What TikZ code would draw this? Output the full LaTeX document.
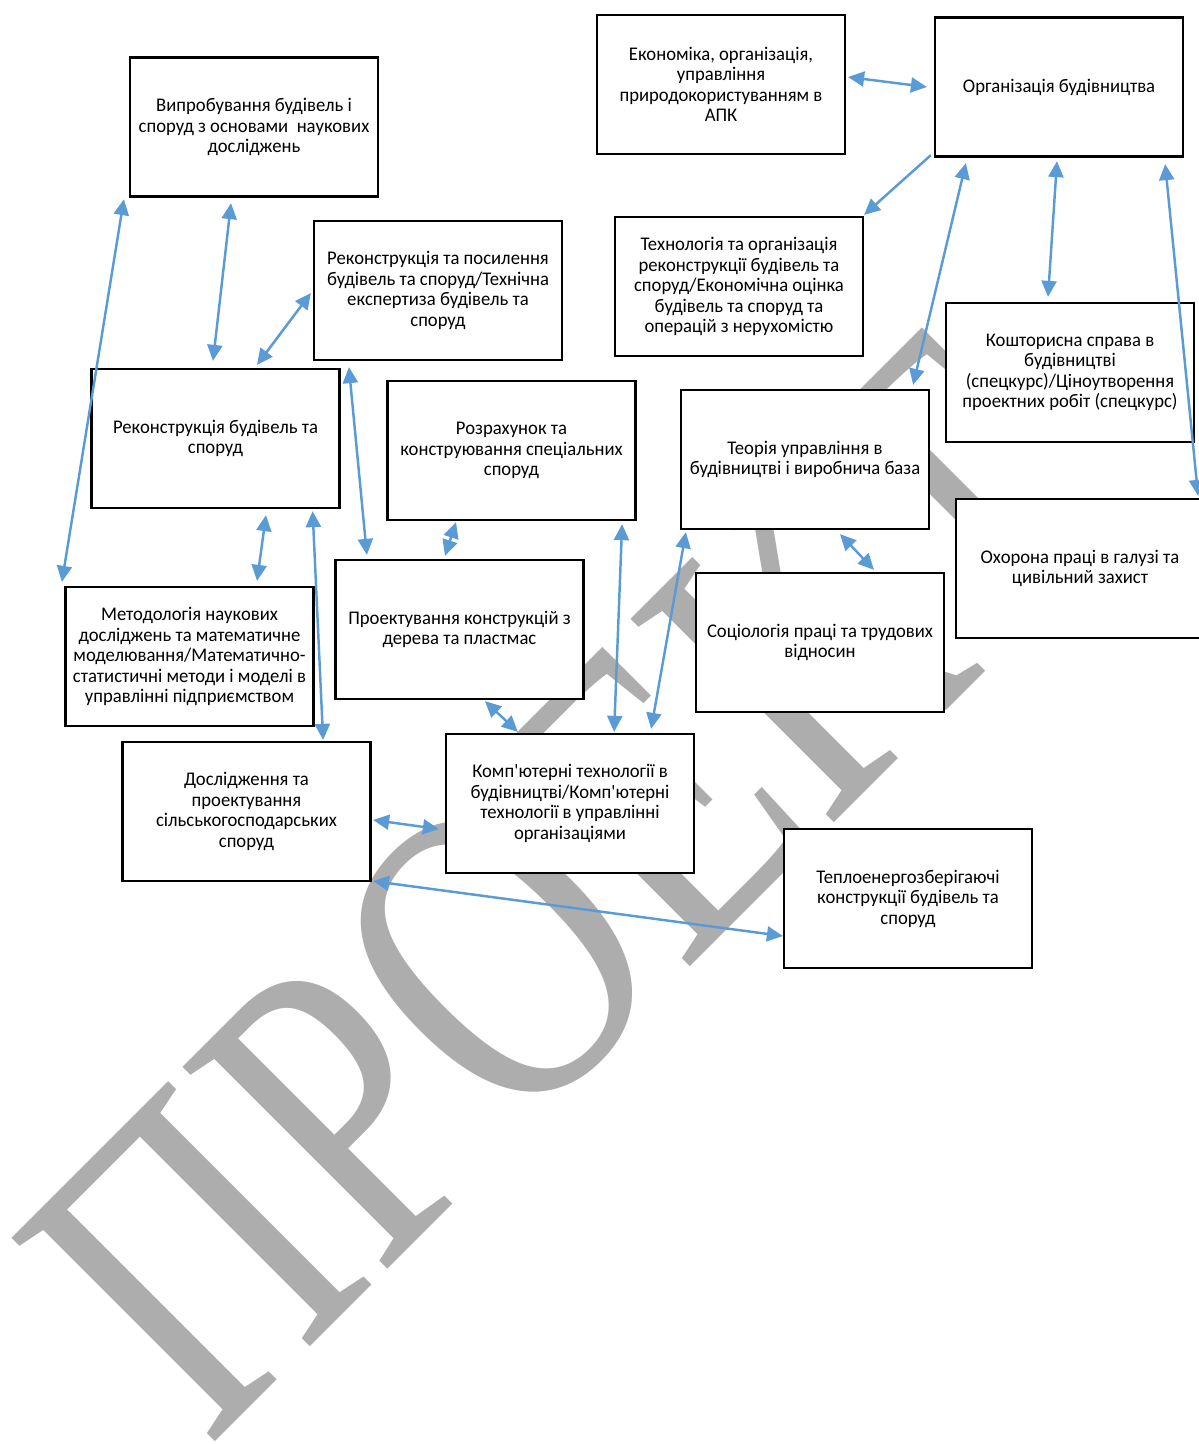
\documentclass[tikz,border=0pt]{standalone}
\usepackage{fontspec}
\setmainfont{Carlito}[FakeStretch=0.965]
\newfontfamily\stampfont{Liberation Serif}
\usetikzlibrary{arrows.meta,calc}
\definecolor{linkblue}{HTML}{5B9BD5}
\definecolor{stampgray}{HTML}{ADADAD}

\begin{document}
\begin{tikzpicture}[x=0.02cm, y=-0.02cm,
    box/.style={draw, line width=1.3pt, fill=white, minimum width=4.96cm, minimum height=2.78cm,
        align=center, inner sep=2pt, font=\fontsize{11}{11.7}\selectfont},
    link/.style={linkblue, line width=1.4pt,
        {Triangle[length=0.32cm,width=0.3cm]}-{Triangle[length=0.32cm,width=0.3cm]}},
    onelink/.style={linkblue, line width=1.4pt, -{Triangle[length=0.32cm,width=0.3cm]}}]
    \clip (0,0) rectangle (1199,1444);

    % Watermark behind everything
    \node[font=\fontsize{190}{190}\stampfont, text=stampgray, anchor=base west,
        rotate=45, yscale=1.316, inner sep=0] (stamp) at (208.5,1448.5) {ПРОЕКТ};

    % Boxes (centres in pixels of the original sheet)
    \node[box] (econ) at (721,84.5) {Економіка, організація,\\ управління\\ природокористуванням в\\ АПК};
    \node[box] (orgbud) at (1059,87) {Організація будівництва};
    \node[box] (vyprob) at (254,127) {Випробування будівель і\\ споруд з основами~ наукових\\ досліджень};
    \node[box] (rekpos) at (438,290.5) {Реконструкція та посилення\\ будівель та споруд/Технічна\\ експертиза будівель та\\ споруд};
    \node[box] (tehorg) at (739,286.5) {Технологія та організація\\ реконструкції будівель та\\ споруд/Економічна оцінка\\ будівель та споруд та\\ операцій з нерухомістю};
    \node[box] (koshtor) at (1070,372.5) {Кошторисна справа в\\ будівництві\\ (спецкурс)/Ціноутворення\\ проектних робіт (спецкурс)};
    \node[box] (rekbud) at (215.5,438.5) {Реконструкція будівель та\\ споруд};
    \node[box] (rozrah) at (511.5,450.5) {Розрахунок та\\ конструювання спеціальних\\ споруд};
    \node[box] (teoria) at (805,459.5) {Теорія управління в\\ будівництві і виробнича база};
    \node[box] (ohorona) at (1080,568.5) {Охорона праці в галузі та\\ цивільний захист};
    \node[box] (metod) at (189.5,656.5) {Методологія наукових\\ досліджень та математичне\\ моделювання/Математично-\\ статистичні методи і моделі в\\ управлінні підприємством};
    \node[box] (proekt) at (459.5,629.5) {Проектування конструкцій з\\ дерева та пластмас};
    \node[box] (sociol) at (820,642.5) {Соціологія праці та трудових\\ відносин};
    \node[box] (doslid) at (246.5,811.5) {Дослідження та\\ проектування\\ сільськогосподарських\\ споруд};
    \node[box] (komp) at (570,803.5) {Комп\textquotesingle ютерні технології в\\ будівництві/Комп\textquotesingle ютерні\\ технології в управлінні\\ організаціями};
    \node[box] (teplo) at (908,898.5) {Теплоенергозберігаючі\\ конструкції будівель та\\ споруд};

    % Links around Organizatsiia budivnytstva
    \draw[link] ($(econ.east)+(2,-7.5)$) -- ($(orgbud.west)+(-7,0)$);
    \draw[onelink] ($(orgbud.south west)+(-3,-2.5)$) -- ($(tehorg.north east)+(0,-1)$);
    \draw[link] ($(teoria.north east)+(-17,-4)$) -- ($(orgbud.south west)+(32,5.5)$);
    \draw[link] ($(koshtor.north)+(-22,-5)$) -- ($(orgbud.south)+(-2,3.5)$);
    \draw[link] ($(ohorona.north east)+(-7,-2)$) -- ($(orgbud.south east)+(-19,6.5)$);

    % Links on the left side
    \draw[link] ($(vyprob.south west)+(-5,1.5)$) -- ($(metod.north west)+(-2.5,-4)$);
    \draw[link] ($(vyprob.south)+(-23,5.5)$) -- ($(rekbud.north)+(-2.5,-7)$);
    \draw[link] ($(rekpos.west)+(-2,2.5)$) -- ($(rekbud.north)+(41.5,-3)$);
    \draw[link] ($(rekpos.south west)+(36,6)$) -- ($(proekt.north west)+(32.5,-4)$);
    \draw[link] ($(rekbud.south)+(50.5,6)$) -- ($(metod.north)+(67.5,-5)$);
    \draw[link] ($(rekbud.south east)+(-28,2)$) -- ($(doslid.north east)+(-48.5,-1)$);

    % Links in the middle
    \draw[link] ($(rozrah.south)+(-55.5,1)$) -- ($(proekt.north)+(-14.5,-3)$);
    \draw[link] ($(rozrah.south east)+(-14.5,3)$) -- ($(komp.north east)+(-81,-1)$);
    \draw[link] ($(teoria.south west)+(6,2)$) -- ($(komp.north east)+(-44,-4)$);
    \draw[link] ($(teoria.south)+(35,4)$) -- ($(sociol.north)+(54,-2)$);
    \draw[link] ($(proekt.south)+(25.5,1)$) -- ($(komp.north west)+(73,-1)$);
    \draw[link] ($(doslid.east)+(1.5,8.5)$) -- ($(komp.west)+(-6,25.5)$);
    \draw[link] ($(doslid.south east)+(1.5,-1)$) -- ($(teplo.west)+(0,37.5)$);
\end{tikzpicture}
\end{document}
